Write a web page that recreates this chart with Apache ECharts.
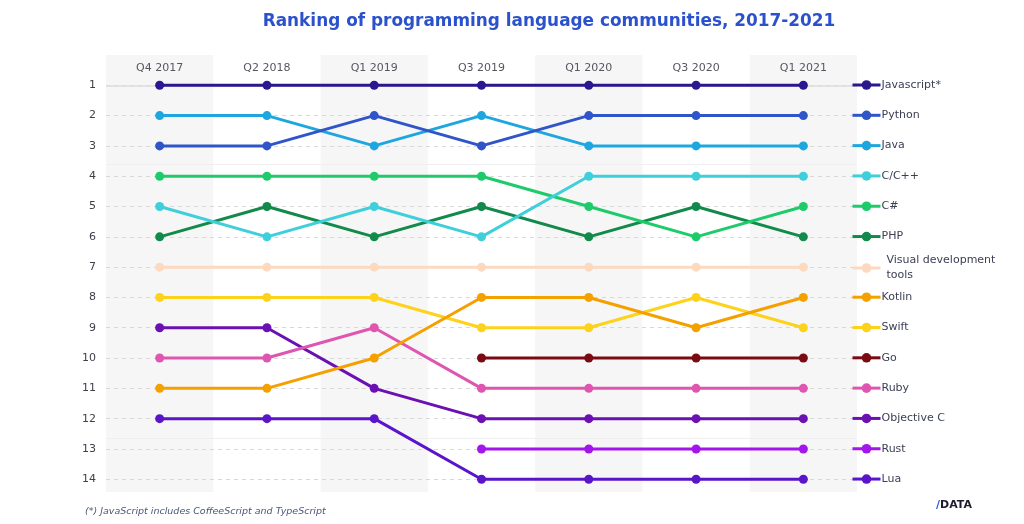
<!DOCTYPE html>
<html><head><meta charset="utf-8">
<script src="https://cdn.jsdelivr.net/npm/echarts@6/dist/echarts.min.js"></script>
<style>html,body{margin:0;padding:0;background:#fff}#c{width:1024px;height:524px}</style>
</head><body><div id="c"></div>
<script>
const categories = ['Q4 2017','Q2 2018','Q1 2019','Q3 2019','Q1 2020','Q3 2020','Q1 2021'];
const languages = ['Javascript*','Python','Java','C/C++','C#','PHP','Visual development tools','Kotlin','Swift','Go','Ruby','Objective C','Rust','Lua'];
const javascriptRank = [1,1,1,1,1,1,1];
const pythonRank     = [3,3,2,3,2,2,2];
const javaRank       = [2,2,3,2,3,3,3];
const cppRank        = [5,6,5,6,4,4,4];
const csharpRank     = [4,4,4,4,5,6,5];
const phpRank        = [6,5,6,5,6,5,6];
const visualRank     = [7,7,7,7,7,7,7];
const kotlinRank     = [11,11,10,8,8,9,8];
const swiftRank      = [8,8,8,9,9,8,9];
const goRank         = [null,null,null,10,10,10,10];
const rubyRank       = [10,10,9,11,11,11,11];
const objcRank       = [9,9,11,12,12,12,12];
const rustRank       = [null,null,null,13,13,13,13];
const luaRank        = [12,12,12,14,14,14,14];
const rankTicks = [1,2,3,4,5,6,7,8,9,10,11,12,13,14];

const rankData = [javascriptRank,pythonRank,javaRank,cppRank,csharpRank,phpRank,visualRank,kotlinRank,swiftRank,goRank,rubyRank,objcRank,rustRank,luaRank];
const colors = ['#29188f','#2f55c9','#1ea7df','#3fcfdb','#1ecb6b','#128a4b','#fcd9bf','#f4a100','#fcd21b','#7b0b12','#df56b1','#6b10b2','#a316eb','#5a15ca'];

const series = languages.map((name,i)=>{
  const s = {
    name, type:'line', data: rankData[i], symbol:'circle', symbolSize:9,
    lineStyle:{width:3,color:colors[i]}, itemStyle:{color:colors[i]},
    connectNulls:false, z: 3 + (14-i)*0.01, emphasis:{disabled:true}
  };
  if(i===0){
    s.markLine = {silent:true, symbol:'none', label:{show:false}, z:1,
      data:[{yAxis:1, lineStyle:{color:'#dcdcdc',type:'solid',width:1.5}},
            {yAxis:3.61, lineStyle:{color:'#efefef',type:'solid',width:1}},
            {yAxis:12.64, lineStyle:{color:'#efefef',type:'solid',width:1}}]};
  }
  return s;
});

const legendCommon = {
  orient:'vertical', left:851, itemWidth:28, itemHeight:12, itemGap:16.31, padding:0,
  selectedMode:false, lineStyle:{width:3},
  textStyle:{fontFamily:'DejaVu Sans', fontSize:11, color:'#3d4055', lineHeight:14, padding:[0,0,0,-4]}
};

const option = {
  animation:false,
  title:{text:'Ranking of programming language communities, 2017-2021', left:544, textAlign:'center', top:8,
    textStyle:{fontFamily:'DejaVu Sans', fontWeight:'bold', fontSize:16.9, color:'#2b52cc'}},
  grid:{left:106, right:167, top:55, bottom:32},
  legend:[
    Object.assign({}, legendCommon, {top:78, data:languages.slice(0,6)}),
    Object.assign({}, legendCommon, {top:253, data:[{name:languages[6], textStyle:{padding:[0,0,0,1], lineHeight:15}}],
      formatter:()=>'Visual development\ntools'}),
    Object.assign({}, legendCommon, {top:290.2, data:languages.slice(7)})
  ],
  xAxis:{type:'category', data:categories, position:'top', boundaryGap:true, z:0,
    axisLine:{show:false}, axisTick:{show:false},
    axisLabel:{inside:true, margin:8, fontFamily:'DejaVu Sans', fontSize:11, color:'#5a5560'},
    splitLine:{show:false},
    splitArea:{show:true, interval:0, areaStyle:{color:['#f6f6f6','rgba(255,255,255,0)']}}},
  yAxis:{type:'value', inverse:true, min:0, max:14.42, interval:1, z:1,
    axisLine:{show:false}, axisTick:{show:false},
    axisLabel:{margin:10, fontFamily:'DejaVu Sans', fontSize:11, color:'#3f3f4a',
      formatter:v=> rankTicks.indexOf(v)>=0 ? String(v) : ''},
    splitLine:{show:true, showMinLine:false, showMaxLine:false, lineStyle:{color:'#d8d8d8', type:[4,4], width:1}}},
  graphic:[
    {type:'text', left:85, top:507, style:{text:'(*) JavaScript includes CoffeeScript and TypeScript',
      fontFamily:'DejaVu Sans', fontStyle:'italic', fontSize:9.5, fill:'#4a5678'}},
    {type:'text', left:936, top:500, style:{text:'{s|/}{d|DATA}',
      rich:{s:{fontFamily:'DejaVu Sans', fontWeight:'bold', fontSize:11, fill:'#2d55d0'},
            d:{fontFamily:'DejaVu Sans', fontWeight:'bold', fontSize:11, fill:'#1c1c2e'}}}}
  ],
  series
};
const chart = echarts.init(document.getElementById('c'));
chart.setOption(option);
</script></body></html>
